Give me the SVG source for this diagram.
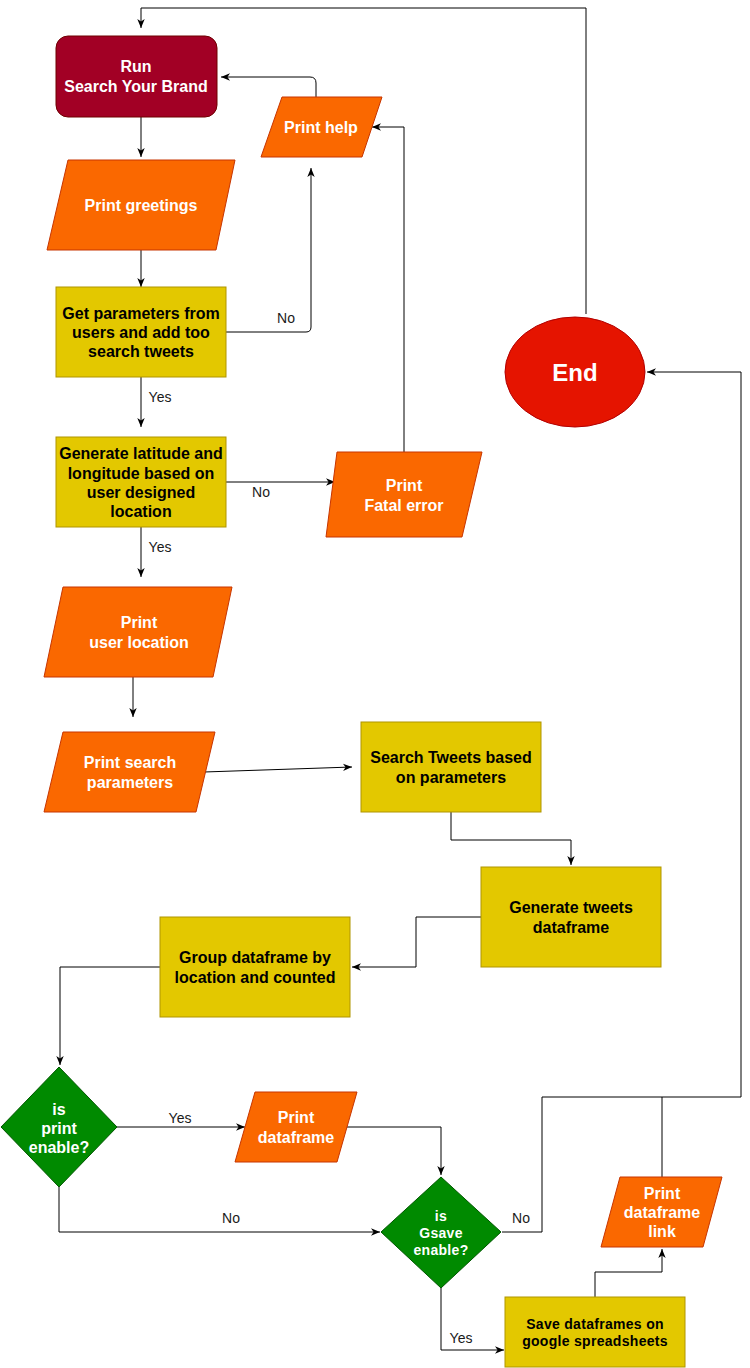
<svg xmlns="http://www.w3.org/2000/svg" width="750" height="1368" viewBox="0 0 750 1368">
<style>
.t{font-family:"Liberation Sans",Arial,sans-serif;font-weight:bold;font-size:16px;text-anchor:middle}
.w{fill:#ffffff}
.k{fill:#000000}
.s{font-size:14px;letter-spacing:0.3px}
.lbl{font-family:"Liberation Sans",Arial,sans-serif;font-size:14px;fill:#1a1a1a;text-anchor:middle}
.org{fill:#fa6800;stroke:#c73500;stroke-width:1}
.yel{fill:#e3c800;stroke:#b09500;stroke-width:1}
.grn{fill:#008a00;stroke:#005700;stroke-width:1}
.c{fill:none;stroke:#000000;stroke-width:1;marker-end:url(#arr)}
.n{fill:none;stroke:#000000;stroke-width:1}
</style>
<defs>
<marker id="arr" markerUnits="userSpaceOnUse" markerWidth="9" markerHeight="9" viewBox="0 0 9 9" refX="9" refY="4.5" orient="auto">
<path d="M0,0.8 L9,4.5 L0,8.2 L2.6,4.5 Z" fill="#000000"/>
</marker>
</defs>
<rect width="750" height="1368" fill="#ffffff"/>
<g id="connectors">
<path class="c" d="M586,314 V8 H141 V28"/>
<path class="c" d="M141,117 V157"/>
<path class="c" d="M316,97 V83 Q316,77 310,77 H221"/>
<path class="c" d="M404,452 V127 H372"/>
<path class="c" d="M141,250 V287"/>
<path class="c" d="M226,332 H306 Q311,332 311,327 V168"/>
<path class="c" d="M141,377 V427"/>
<path class="c" d="M226,482 H335"/>
<path class="c" d="M141,527 V577"/>
<path class="c" d="M133,677 V717"/>
<path class="c" d="M204,772 L352,767"/>
<path class="c" d="M451,812 V840 H571 V865"/>
<path class="c" d="M481,917 H416 V967 H352"/>
<path class="c" d="M160,967 H60 V1065"/>
<path class="c" d="M117,1127 H245"/>
<path class="c" d="M346,1127 H441 V1175"/>
<path class="c" d="M59,1187 V1232 H380"/>
<path class="c" d="M502,1232 H542 V1097 H741 V372 H647"/>
<path class="n" d="M662,1177 V1097"/>
<path class="c" d="M441,1288 V1350 H504"/>
<path class="c" d="M595,1297 V1272 H662 V1249"/>
<text class="lbl" x="286" y="323">No</text>
<text class="lbl" x="160" y="402">Yes</text>
<text class="lbl" x="261" y="497">No</text>
<text class="lbl" x="160" y="552">Yes</text>
<text class="lbl" x="180" y="1123">Yes</text>
<text class="lbl" x="231" y="1223">No</text>
<text class="lbl" x="521" y="1223">No</text>
<text class="lbl" x="461" y="1343">Yes</text>
</g>
<g id="run">
<rect x="56" y="36" width="161" height="81" rx="12" fill="#a20025" stroke="#6f0000"/>
<text class="t w" x="136" y="72">Run</text>
<text class="t w" x="136" y="92">Search Your Brand</text>
</g>
<g id="print-greetings">
<polygon class="org" points="68,160 235,160 216,250 47,250"/>
<text class="t w" x="141" y="211">Print greetings</text>
</g>
<g id="print-help">
<polygon class="org" points="282,97 382,97 362,157 261,157"/>
<text class="t w" x="321" y="133">Print help</text>
</g>
<g id="get-parameters">
<rect class="yel" x="56" y="287" width="170" height="90"/>
<text class="t k" x="141" y="319">Get parameters from</text>
<text class="t k" x="141" y="338">users and add too</text>
<text class="t k" x="141" y="357">search tweets</text>
</g>
<g id="generate-latlon">
<rect class="yel" x="56" y="437" width="170" height="90"/>
<text class="t k" x="141" y="459">Generate latitude and</text>
<text class="t k" x="141" y="479">longitude based on</text>
<text class="t k" x="141" y="498">user designed</text>
<text class="t k" x="141" y="517">location</text>
</g>
<g id="print-fatal">
<polygon class="org" points="337,452 482,452 462,537 326,537"/>
<text class="t w" x="404" y="491">Print</text>
<text class="t w" x="404" y="511">Fatal error</text>
</g>
<g id="end">
<ellipse cx="575" cy="372" rx="70" ry="55" fill="#e51400" stroke="#b20000"/>
<text class="t w" x="575" y="381" style="font-size:24px">End</text>
</g>
<g id="print-user-location">
<polygon class="org" points="63,587 232,587 213,677 44,677"/>
<text class="t w" x="139" y="628">Print</text>
<text class="t w" x="139" y="648">user location</text>
</g>
<g id="print-search-parameters">
<polygon class="org" points="63,732 215,732 196,812 44,812"/>
<text class="t w" x="130" y="768">Print search</text>
<text class="t w" x="130" y="788">parameters</text>
</g>
<g id="search-tweets">
<rect class="yel" x="361" y="722" width="180" height="90"/>
<text class="t k" x="451" y="763">Search Tweets based</text>
<text class="t k" x="451" y="783">on parameters</text>
</g>
<g id="generate-tweets">
<rect class="yel" x="481" y="867" width="180" height="100"/>
<text class="t k" x="571" y="913">Generate tweets</text>
<text class="t k" x="571" y="933">dataframe</text>
</g>
<g id="group-dataframe">
<rect class="yel" x="160" y="917" width="190" height="100"/>
<text class="t k" x="255" y="963">Group dataframe by</text>
<text class="t k" x="255" y="983">location and counted</text>
</g>
<g id="is-print-enable">
<polygon class="grn" points="59,1067 117,1127 59,1187 1,1127"/>
<text class="t w" x="59" y="1115">is</text>
<text class="t w" x="59" y="1134">print</text>
<text class="t w" x="59" y="1153">enable?</text>
</g>
<g id="print-dataframe">
<polygon class="org" points="255,1092 357,1092 337,1162 235,1162"/>
<text class="t w" x="296" y="1123">Print</text>
<text class="t w" x="296" y="1143">dataframe</text>
</g>
<g id="is-gsave-enable">
<polygon class="grn" points="441,1177 501,1232 441,1288 381,1232"/>
<text class="t w s" x="441" y="1221">is</text>
<text class="t w s" x="441" y="1238">Gsave</text>
<text class="t w s" x="441" y="1255">enable?</text>
</g>
<g id="print-dataframe-link">
<polygon class="org" points="620,1177 722,1177 703,1247 601,1247"/>
<text class="t w" x="662" y="1199">Print</text>
<text class="t w" x="662" y="1218">dataframe</text>
<text class="t w" x="662" y="1237">link</text>
</g>
<g id="save-dataframes">
<rect class="yel" x="505" y="1297" width="180" height="70"/>
<text class="t k s" x="595" y="1329">Save dataframes on</text>
<text class="t k s" x="595" y="1346">google spreadsheets</text>
</g>
</svg>
